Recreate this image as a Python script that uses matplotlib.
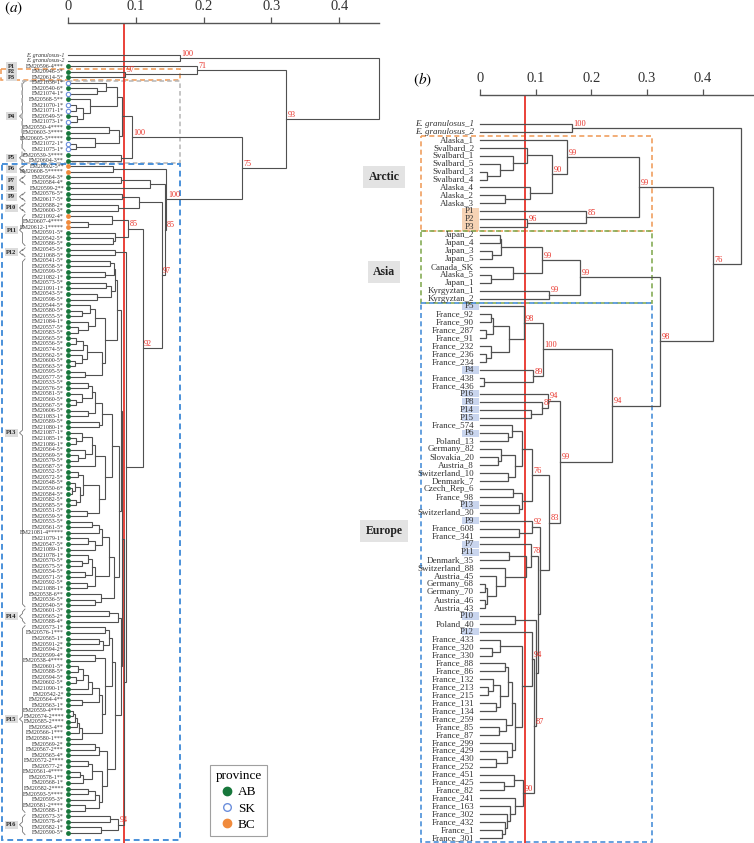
import matplotlib

matplotlib.use("Agg", force=True)
import matplotlib.pyplot as plt
from matplotlib.lines import Line2D
from matplotlib.patches import Rectangle

plt.rcParams["font.family"] = ["Liberation Serif", "DejaVu Serif"]
plt.rcParams["mathtext.fontset"] = "stix"

TREE_COLOR = "#505050"
RED = "#e8332a"
AB_COLOR = "#17773b"
SK_COLOR = "#6c8fdc"
BC_COLOR = "#f08a3c"

# ---------------- panel (a): Alberta / Saskatchewan / BC isolates ----------------
LEAVES_A = [
    "E. granulosus-1", "E. granulosus-2", "EM20596-4***", "EM20946-5*", "EM20614-5*",
    "EM21036-1*", "EM20540-6*", "EM21074-1*", "EM20568-5**", "EM21070-1*", "EM21071-1*",
    "EM20549-5*", "EM21073-1*", "EM20550-4****", "EM20603-3****", "EM20605-3*****",
    "EM21072-1*", "EM21075-1*",
    "EM20539-3****", "EM20604-3**",
    "EM20602-5**", "EM20608-5*****",
    "EM20564-3*", "EM20584-4*", "EM20599-2**",
    "EM20576-5*", "EM20617-5*", "EM20588-2*", "EM20600-3*",
    "EM21092-4*", "EM20607-4****", "EM20612-1*****", "EM20591-5*", "EM20542-5*", "EM20586-5*",
    "EM20545-5*", "EM21068-5*",
    "EM20541-5*", "EM20558-5*", "EM20599-5*", "EM21082-1*", "EM20573-5*", "EM21091-1*",
    "EM20543-5*", "EM20598-5*", "EM20544-5*", "EM20580-5*", "EM20555-5*", "EM21084-1*",
    "EM20557-5*", "EM20583-5*", "EM20565-5*", "EM20556-5*", "EM20574-5*", "EM20562-5*",
    "EM20600-5*", "EM20563-5*", "EM20595-5*", "EM20577-5*", "EM20533-5*", "EM20576-5*",
    "EM20581-5*", "EM20560-5*", "EM20567-5*", "EM20606-5*", "EM21083-1*", "EM20589-5*",
    "EM21080-1*", "EM21087-1*", "EM21085-1*", "EM21086-1*", "EM20564-5*", "EM20569-5*",
    "EM20579-5*", "EM20587-5*", "EM20552-5*", "EM20572-5*", "EM20548-5*", "EM20550-6*",
    "EM20584-5*", "EM20582-5*", "EM20585-5*", "EM20551-5*", "EM20559-5*", "EM20553-5*",
    "EM20561-5*", "EM21081-4*****", "EM21079-1*", "EM20547-5*", "EM21089-1*", "EM21078-1*",
    "EM20570-5*", "EM20575-5*", "EM20554-5*", "EM20571-5*", "EM20592-5*", "EM21088-1*",
    "EM20538-6**", "EM20536-5*", "EM20540-5*",
    "EM20601-3*", "EM20565-2*", "EM20588-4*",
    "EM20573-1*", "EM20576-1***", "EM20565-1*", "EM20591-2*", "EM20594-2*", "EM20599-4*",
    "EM20538-4****", "EM20601-5*", "EM20588-5*", "EM20594-5*", "EM20602-5*", "EM21090-1*",
    "EM20542-2*", "EM20564-4**", "EM20563-1*", "EM20559-4****", "EM20574-2****",
    "EM20585-2****", "EM20563-4**", "EM20566-1***", "EM20580-1***", "EM20569-2*",
    "EM20567-2***", "EM20565-4*", "EM20572-2****", "EM20577-2*", "EM20561-4****",
    "EM20578-1**", "EM20568-1*", "EM20582-2****", "EM20593-5****", "EM20595-3*",
    "EM20581-2****", "EM20588-1*",
    "EM20573-3*", "EM20578-4*", "EM20582-1*", "EM20590-5*",
]
OUTGROUP_A = [0, 1]
SK_LEAVES_A = [5, 7, 9, 10, 12, 16, 17]
BC_LEAVES_A = [20, 21, 29, 30, 31]
GROUPS_A = [("P1", 2, 2), ("P2", 3, 3), ("P3", 4, 4), ("P4", 5, 17), ("P5", 18, 19),
            ("P6", 20, 21), ("P7", 22, 23), ("P8", 24, 24), ("P9", 25, 26),
            ("P10", 27, 28), ("P11", 29, 34), ("P12", 35, 36), ("P13", 37, 99),
            ("P14", 100, 102), ("P15", 103, 136), ("P16", 137, 140)]
THRESHOLD_A = 0.082

# tree nodes: (height, left, right[, support]); ints are leaf indices
A_OUT = (0.165, 0, 1, "100")
A_71 = (0.19, 2, (0.084, 3, 4, "97"), "71")
A_P4 = (0.08, (0.072, (0.056, 5, (0.043, 6, 7)),
                (0.032, 8, (0.022, (0.012, 9, 10), (0.013, 11, 12)))),
        (0.075, (0.06, 13, 14), (0.04, 15, (0.012, 16, 17))))
A_P45 = (0.094, A_P4, (0.078, 18, 19), "100")
A_P6 = (0.066, 20, 21)
A_P78 = (0.121, (0.078, 22, 23), 24)
A_P910 = (0.105, (0.08, 25, 26), (0.074, 27, 28))
A_P11 = (0.088, (0.065, 29, (0.03, 30, 31)), (0.07, 32, (0.066, 33, 34)), "85")
A_P12 = (0.069, 35, 36)
A_C3 = (0.04, (0.032, 45, (0.02, 46, 47)), (0.03, 48, (0.015, 49, 50)))
A_C8 = (0.05, (0.028, (0.022, (0.012, 51, 52), 53), (0.02, 54, (0.01, 55, 56))), (0.025, 57, 58))
A_C9 = (0.055, A_C3, A_C8)
A_D7 = (0.05, (0.04, (0.035, (0.03, 59, 60), (0.02, 61, (0.012, 62, 63))), (0.03, 64, 65)),
        (0.045, 66, 67))
A_E4 = (0.04, (0.035, (0.02, 68, (0.012, 69, 70)), (0.025, 71, (0.015, 72, 73))), 74)
A_F6 = (0.045, (0.022, (0.015, 75, 76), (0.018, (0.01, 77, (0.006, 78, 79)), (0.012, 80, 81))),
        (0.028, 82, 83))
A_F8 = (0.065, A_D7, (0.055, A_E4, A_F6))
A_G3 = (0.05, (0.045, (0.035, 84, 85), 86), (0.04, (0.03, 87, 88), 89))
A_G7 = (0.04, (0.035, (0.03, 90, (0.02, 91, 92)), (0.025, 93, 94)), (0.028, 95, 96))
A_H1 = (0.068, (0.06, A_G3, A_G7), (0.048, 97, (0.04, 98, 99)))
A_P13 = (0.078, (0.072, (0.07, (0.068, (0.062, 37, 38), (0.055, 39, 40)),
                         (0.064, (0.056, 41, 42), (0.043, 43, 44))), A_C9),
         (0.075, A_F8, A_H1))
A_P14 = (0.074, (0.06, 100, 101), 102)
A_L6 = (0.045, (0.035, (0.03, (0.022, (0.015, 110, 111), (0.012, 112, 113)), 114), 115),
        (0.02, 116, 117))
A_M5 = (0.02, (0.016, (0.014, (0.01, (0.008, 118, 119), 120), 121), 122), 123)
A_N2 = (0.065, (0.06, (0.055, 103, 104), (0.052, (0.045, 105, 106), 107)),
        (0.055, (0.04, 108, 109), (0.05, A_L6, A_M5)))
A_O11 = (0.057, (0.045, (0.04, 124, 125), 126),
         (0.05, (0.035, (0.03, 127, 128), (0.022, (0.018, 129, 130), 131)),
          (0.045, (0.04, (0.03, 132, 133), 134), (0.025, 135, 136))))
A_P15 = (0.07, A_N2, A_O11)
A_P16 = (0.074, (0.062, 137, 138), (0.048, 139, 140), "94")
A_REST = (0.086, A_P12, (0.083, (0.08, A_P13, (0.078, A_P14, A_P15)), A_P16))
A_EUROPE = (0.145, A_P6, (0.143, A_P78, (0.138, A_P910, (0.11, A_P11, A_REST, "92"), "97"), "85"), "100")
TREE_A = (0.458, A_OUT, (0.322, A_71, (0.257, A_P45, A_EUROPE, "75"), "93"))

# ---------------- panel (b): global haplotypes ----------------
LEAVES_B = [
    "E. granulosus_1", "E. granulosus_2", "Alaska_1", "Svalbard_2", "Svalbard_1", "Svalbard_5",
    "Svalbard_3", "Svalbard_4", "Alaska_4", "Alaska_2", "Alaska_3", "P1", "P2", "P3",
    "Japan_2", "Japan_4", "Japan_3", "Japan_5", "Canada_SK", "Alaska_5", "Japan_1",
    "Kyrgyztan_1", "Kyrgyztan_2",
    "P5", "France_92", "France_90", "France_287", "France_91", "France_232", "France_236",
    "France_234", "P4", "France_438", "France_436", "P16", "P8", "P14", "P15", "France_574",
    "P6", "Poland_13", "Germany_82", "Slovakia_20", "Austria_8", "Switzerland_10",
    "Denmark_7", "Czech_Rep_6", "France_98", "P13", "Switzerland_30", "P9", "France_608",
    "France_341", "P7", "P11", "Denmark_35", "Switzerland_88", "Austria_45", "Germany_68",
    "Germany_70", "Austria_46", "Austria_43", "P10", "Poland_40", "P12", "France_433",
    "France_320", "France_330", "France_88", "France_86", "France_132", "France_213",
    "France_215", "France_131", "France_134", "France_259", "France_85", "France_87",
    "France_299", "France_429", "France_430", "France_252", "France_451", "France_425",
    "France_82", "France_241", "France_163", "France_302", "France_432", "France_1",
    "France_301",
]
OUTGROUP_B = [0, 1]
ARCTIC_P_B = [11, 12, 13]
EUROPE_P_B = [23, 31, 34, 35, 36, 37, 39, 48, 50, 53, 54, 62, 64]
REGIONS_B = [("Arctic", 2, 13, "#f0a060"), ("Asia", 14, 22, "#86ad57"), ("Europe", 23, 90, "#4a90d9")]
THRESHOLD_B = 0.08

B_OUT = (0.165, 0, 1, "100")
B_ARCTIC = (0.285, (0.156, 2, (0.129, (0.084, 3, (0.059, 4, (0.036, 5, (0.012, 6, 7)))),
                               (0.09, 8, (0.045, 9, 10)), "90"), "99"),
            (0.19, 11, (0.084, 12, 13, "96"), "85"), "99")
B_ASIA = (0.18, (0.111, (0.038, (0.036, 14, 15), (0.021, 16, 17)),
                 (0.06, 18, (0.02, 19, 20)), "99"),
          (0.124, 21, 22, "99"), "99")
B_100 = (0.113, (0.079, 23, (0.052, (0.023, (0.02, 24, 25), (0.01, 26, 27)),
                              (0.02, 28, (0.01, 29, 30))), "98"),
         (0.095, 31, (0.007, 32, 33), "89"), "100")
B_94 = (0.122, 34, (0.112, 35, (0.092, 36, 37), "87"), "94")
B_76 = (0.093, (0.075, (0.057, 38, (0.05, 39, 40)),
                (0.063, (0.038, 41, (0.032, 42, 43)), (0.05, 44, 45))),
        (0.075, (0.059, 46, 47), (0.07, 48, 49)), "76")
B_92 = (0.093, 50, (0.07, 51, 52), "92")
B_78 = (0.092, 53, (0.083, (0.052, 54, 55),
                    (0.045, 56, (0.028, 57, (0.012, (0.009, 58, 59), (0.009, 60, 61))))), "78")
B_F9 = (0.063, (0.058, (0.05, (0.045, 68, 69),
                        (0.036, (0.023, 70, (0.014, 71, 72)), (0.028, 73, 74))),
                (0.047, 75, (0.034, 76, 77))),
        (0.057, 78, (0.048, 79, (0.029, 80, 81))))
B_F94 = (0.093, 64, (0.075, (0.036, 65, (0.021, 66, 67)), B_F9), "94")
B_F90 = (0.078, (0.061, 82, (0.043, 83, 84)),
         (0.062, 85, (0.054, 86, (0.049, 87, (0.044, 88, (0.04, 89, 90))))), "90")
B_LOW = (0.108, B_92, (0.104, B_78, (0.1, (0.063, 62, 63), (0.097, B_F94, B_F90, "87"))))
B_EUROPE = (0.237, B_100, (0.144, B_94, (0.124, B_76, B_LOW, "83"), "99"), "94")
TREE_B = (0.469, B_OUT, (0.418, B_ARCTIC, (0.323, B_ASIA, B_EUROPE, "98"), "76"))

FIG_W, FIG_H = 754, 843


def draw_tree(ax, node, support_size, lw):
    if isinstance(node, int):
        return 0.0, float(node)
    height, left, right = node[0], node[1], node[2]
    xl, yl = draw_tree(ax, left, support_size, lw)
    xr, yr = draw_tree(ax, right, support_size, lw)
    ax.plot([xl, height, height, xr], [yl, yl, yr, yr], color=TREE_COLOR, lw=lw,
            solid_joinstyle="miter", zorder=3, clip_on=False)
    ymid = (yl + yr) / 2
    if len(node) > 3:
        ax.annotate(node[3], (height, ymid), xytext=(1.2, 0.2), textcoords="offset points",
                    ha="left", va="bottom", fontsize=support_size, color=RED, zorder=4)
    return height, ymid


def make_panel(left_px, right_px, top_px, px_per_unit, first_px, step_px):
    width_px = right_px - left_px
    ax = plt.axes([left_px / FIG_W, 0, width_px / FIG_W, (FIG_H - top_px) / FIG_H])
    ax.set_xlim(0, width_px / px_per_unit)
    ax.set_ylim((FIG_H - first_px) / step_px, (top_px - first_px) / step_px)
    for side in ("left", "right", "bottom"):
        ax.spines[side].set_visible(False)
    ax.spines["top"].set_color("#555555")
    ax.spines["top"].set_linewidth(1.0)
    ax.xaxis.tick_top()
    ax.set_xticks([0, 0.1, 0.2, 0.3, 0.4])
    ax.set_xticklabels(["0", "0.1", "0.2", "0.3", "0.4"])
    ax.tick_params(axis="x", direction="out", length=4.5, width=0.9, color="#555555",
                   labelsize=10.5, pad=2.5, labelcolor="#333333")
    ax.set_yticks([])
    ax.patch.set_alpha(0)
    return ax


def dashed_box(ax, x0, x1, y0, y1, color, lw):
    ax.add_patch(Rectangle((x0, y0), x1 - x0, y1 - y0, fill=False, ec=color, lw=lw,
                           ls=(0, (3, 2)), clip_on=False, zorder=2))


fig = plt.figure(figsize=(FIG_W / 100, FIG_H / 100), dpi=100)

# ---------- panel (a) ----------
PX_A, X0_A = 678.0, 68.0
ax_a = make_panel(68, 379, 23, PX_A, 55.0, (833 - 55) / 140)


def xa(px):
    return (px - X0_A) / PX_A


ax_a.axvline(THRESHOLD_A, color=RED, lw=1.3, zorder=2.5)
draw_tree(ax_a, TREE_A, 5.9, 0.8)

for i, name in enumerate(LEAVES_A):
    ax_a.text(xa(64), i, name, ha="right", va="center", fontsize=4.3, color="#333333",
              style="italic" if i in OUTGROUP_A else "normal", clip_on=False)

ab_idx = [i for i in range(len(LEAVES_A))
          if i not in OUTGROUP_A and i not in SK_LEAVES_A and i not in BC_LEAVES_A]
ax_a.scatter([0] * len(ab_idx), ab_idx, s=12, color=AB_COLOR, zorder=5, clip_on=False, lw=0)
ax_a.scatter([0] * len(SK_LEAVES_A), SK_LEAVES_A, s=10, facecolor="white", edgecolor=SK_COLOR,
             lw=0.8, zorder=5, clip_on=False)
ax_a.scatter([0] * len(BC_LEAVES_A), BC_LEAVES_A, s=12, color=BC_COLOR, zorder=5, clip_on=False, lw=0)

for name, first, last in GROUPS_A:
    mid = (first + last) / 2
    ax_a.text(xa(11.5), mid, name, ha="center", va="center", fontsize=4.6, fontweight="bold",
              color="#222222", clip_on=False, zorder=6,
              bbox=dict(boxstyle="square,pad=0.25", fc="#dcdcdc", ec="none"))
    if last > first:
        top, bot = first - 0.3, last + 0.3
        ax_a.plot([xa(25), xa(22.5), xa(22.5), xa(19.5), xa(22.5), xa(22.5), xa(25)],
                  [top, top + 0.5, mid - 0.5, mid, mid + 0.5, bot - 0.5, bot],
                  color="#777777", lw=0.6, clip_on=False)

dashed_box(ax_a, xa(1), xa(180), 2.45, 4.45, "#f0a060", 1.2)
dashed_box(ax_a, xa(22), xa(180), 4.6, 19.4, "#b5b5b5", 1.1)
dashed_box(ax_a, xa(2), xa(180), 19.55, 141.3, "#4a90d9", 1.4)

# ---------- panel (b) ----------
PX_B, X0_B = 557.0, 480.0
ax_b = make_panel(480, 754, 95, PX_B, 124.0, (838 - 124) / 90)


def xb(px):
    return (px - X0_B) / PX_B


ax_b.axvline(THRESHOLD_B, color=RED, lw=1.3, zorder=2.5)
draw_tree(ax_b, TREE_B, 6.0, 0.9)

for i in ARCTIC_P_B + EUROPE_P_B:
    fc = "#f6d3b5" if i in ARCTIC_P_B else "#c9d5ee"
    ax_b.add_patch(Rectangle((xb(461.5), i - 0.47), xb(478.5) - xb(461.5), 0.94, fc=fc, ec="none",
                             clip_on=False, zorder=1))
for i, name in enumerate(LEAVES_B):
    ax_b.text(xb(474), i, name, ha="right", va="center", fontsize=6.5, color="#333333",
              style="italic" if i in OUTGROUP_B else "normal", clip_on=False, zorder=4)

for region, first, last, color in REGIONS_B:
    dashed_box(ax_b, xb(421), xb(652), first - 0.5, last + 0.5, color, 1.2)

# ---------- annotations ----------
fig.text(4 / FIG_W, 1 - 8 / FIG_H, r"$(a)$", fontsize=11, va="center", ha="left")
fig.text(413 / FIG_W, 1 - 80 / FIG_H, r"$(b)$", fontsize=11, va="center", ha="left")
for region, y_px in [("Arctic", 177), ("Asia", 272), ("Europe", 531)]:
    fig.text(384 / FIG_W, 1 - y_px / FIG_H, region, ha="center", va="center", fontsize=8.5,
             fontweight="bold", color="#222222",
             bbox=dict(boxstyle="square,pad=0.45", fc="#e3e3e3", ec="none"))

handles = [
    Line2D([], [], marker="o", ls="", markersize=6, color=AB_COLOR),
    Line2D([], [], marker="o", ls="", markersize=5.5, markerfacecolor="white",
           markeredgecolor=SK_COLOR, markeredgewidth=1.0),
    Line2D([], [], marker="o", ls="", markersize=6, color=BC_COLOR),
]
leg = fig.legend(handles, ["AB", "SK", "BC"], title="province", loc="upper left",
                 bbox_to_anchor=(210 / FIG_W, 1 - 765 / FIG_H), borderaxespad=0, fontsize=9.5,
                 title_fontsize=9.5, frameon=True, fancybox=False, edgecolor="#888888",
                 handlelength=0.9, handletextpad=0.4, labelspacing=0.3, borderpad=0.4)
leg.get_frame().set_linewidth(0.8)

fig.savefig("out.png", dpi=100)
